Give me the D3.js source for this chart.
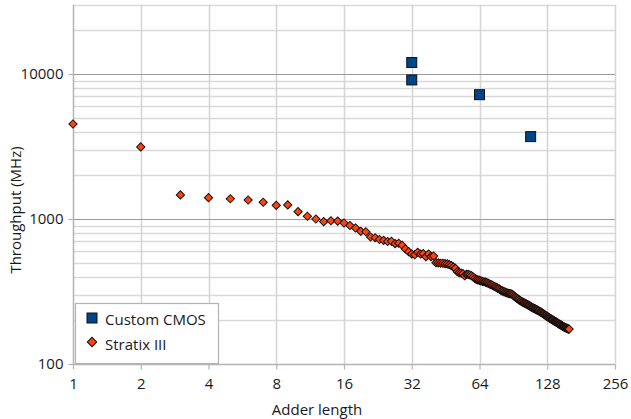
<!DOCTYPE html>
<html><head><meta charset="utf-8">
<script src="https://cdn.jsdelivr.net/npm/d3@7"></script>
<style>
html,body{margin:0;padding:0;background:#fff;}
svg{display:block;}
text{font-family:"Open Sans",sans-serif;fill:#1a1a1a;}
</style></head>
<body>
<svg id="c" width="631" height="419"></svg>
<script>
// ---- data ----
const xTickValues = [1, 2, 4, 8, 16, 32, 64, 128, 256];
const yTickValues = [100, 1000, 10000];
const cmosLength = [32, 32, 64, 108];
const cmosThroughput = [12000, 9100, 7200, 3700];
const stratixLength = d3.range(1, 161);
const stratixThroughput = [
  4520, 3140, 1465, 1403, 1380, 1352, 1304, 1242, 1250, 1123,
  1044, 1000, 958, 973, 968, 938, 902, 867, 822, 817,
  751, 743, 722, 713, 700, 702, 676, 680, 659, 621,
  595, 574, 567, 589, 574, 577, 550, 574, 550, 556,
  500, 498, 495, 495, 492, 490, 484, 477, 467, 457,
  433, 427, 424, 420, 406, 415, 415, 411, 406, 398,
  390, 383, 380, 377, 374, 371, 369, 367, 364, 360,
  356, 353, 349, 345, 341, 338, 334, 331, 326, 321,
  319, 316, 314, 311, 309, 307, 306, 305, 304, 300,
  295, 291, 287, 283, 280, 277, 273, 271, 268, 266,
  264, 262, 260, 258, 256, 254, 252, 249, 247, 245,
  243, 241, 240, 238, 236, 235, 233, 231, 229, 228,
  226, 224, 222, 220, 218, 216, 214, 213, 211, 209,
  208, 206, 205, 203, 202, 200, 199, 197, 196, 195,
  194, 192, 191, 189, 188, 187, 186, 185, 183, 182,
  181, 180, 179, 178, 177, 177, 176, 175, 174, 174
];
const seriesNames = ["Custom CMOS", "Stratix III"];
const seriesColors = ["#004586", "#ff420e"];

// ---- layout ----
const L = 73, R = 615, B = 364;
const svg = d3.select("#c");
const x = d3.scaleLog().base(2).domain([1, 256]).range([L, R]);
const y = d3.scaleLog().domain([100, 30000]).range([B, B - Math.log10(300) * 145]);

// minor horizontal grid
const minor = [];
[100, 1000, 10000].forEach(d => { for (let k = 2; k <= 9; k++) { const v = d * k; if (v <= 30000) minor.push(v); } });
svg.append("g").selectAll("line").data(minor).join("line")
  .attr("x1", L).attr("x2", R).attr("y1", d => Math.round(y(d)) + 0.5).attr("y2", d => Math.round(y(d)) + 0.5)
  .attr("stroke", "#d9d9d9").attr("stroke-width", 1.5);
// vertical grid
svg.append("g").selectAll("line").data(xTickValues.slice(1)).join("line")
  .attr("x1", d => Math.round(x(d)) + 0.5).attr("x2", d => Math.round(x(d)) + 0.5)
  .attr("y1", y(30000)).attr("y2", B)
  .attr("stroke", "#d4d4d4").attr("stroke-width", 1.5);
// major horizontal grid
svg.append("g").selectAll("line").data(yTickValues.slice(1)).join("line")
  .attr("x1", L).attr("x2", R).attr("y1", d => Math.round(y(d)) + 0.5).attr("y2", d => Math.round(y(d)) + 0.5)
  .attr("stroke", "#9a9a9a").attr("stroke-width", 1.2);

// axes
const fmt = d3.format("d");
const xAxis = svg.append("g").attr("transform", `translate(0,${B + 0.5})`)
  .call(d3.axisBottom(x).tickValues(xTickValues).tickFormat(fmt).tickSize(5).tickPadding(9));
const yAxis = svg.append("g").attr("transform", `translate(${L + 0.5},0)`)
  .call(d3.axisLeft(y).tickValues(yTickValues).tickFormat(fmt).tickSize(5).tickPadding(5));
[xAxis, yAxis].forEach(g => {
  g.select(".domain").attr("stroke", "#b3b3b3").attr("stroke-width", 1.5);
  g.selectAll(".tick line").attr("stroke", "#b3b3b3").attr("stroke-width", 1.2);
  g.selectAll(".tick text").attr("font-family", "Open Sans").attr("font-size", 15).attr("fill", "#1a1a1a");
});
xAxis.select(".domain").attr("d", `M${L},0H${R}`);
yAxis.select(".domain").attr("d", `M0,${B}V${y(30000)}`);

// Stratix points
const diamond = d3.symbol(d3.symbolSquare, 34);
svg.append("g").selectAll("path").data(stratixLength).join("path")
  .attr("d", diamond)
  .attr("transform", (d, i) => `translate(${x(d)},${y(stratixThroughput[i])}) rotate(45)`)
  .attr("fill", seriesColors[1]).attr("stroke", "#111").attr("stroke-width", 1);

// Custom CMOS points
svg.append("g").selectAll("rect").data(cmosLength).join("rect")
  .attr("x", d => x(d) - 5).attr("y", (d, i) => y(cmosThroughput[i]) - 5)
  .attr("width", 10).attr("height", 10)
  .attr("fill", seriesColors[0]).attr("stroke", "#111").attr("stroke-width", 1);

// axis titles
svg.append("text").attr("x", 317).attr("y", 415).attr("text-anchor", "middle")
  .attr("font-size", 15).text("Adder length");
svg.append("text").attr("transform", "translate(21,210) rotate(-90)").attr("text-anchor", "middle")
  .attr("font-size", 15).text("Throughput (MHz)");

// legend
const lg = svg.append("g");
lg.append("rect").attr("x", 75.5).attr("y", 303.5).attr("width", 143).attr("height", 60)
  .attr("fill", "#fff").attr("stroke", "#b3b3b3").attr("stroke-width", 1.2);
lg.append("rect").attr("x", 87).attr("y", 313).attr("width", 10).attr("height", 10)
  .attr("fill", seriesColors[0]).attr("stroke", "#111").attr("stroke-width", 1);
lg.append("path").attr("d", d3.symbol(d3.symbolSquare, 44)())
  .attr("transform", "translate(92,342) rotate(45)")
  .attr("fill", seriesColors[1]).attr("stroke", "#111").attr("stroke-width", 1);
lg.append("text").attr("x", 105).attr("y", 325).attr("font-size", 15).text(seriesNames[0]);
lg.append("text").attr("x", 105).attr("y", 350).attr("font-size", 15).text(seriesNames[1]);
</script>
</body></html>
